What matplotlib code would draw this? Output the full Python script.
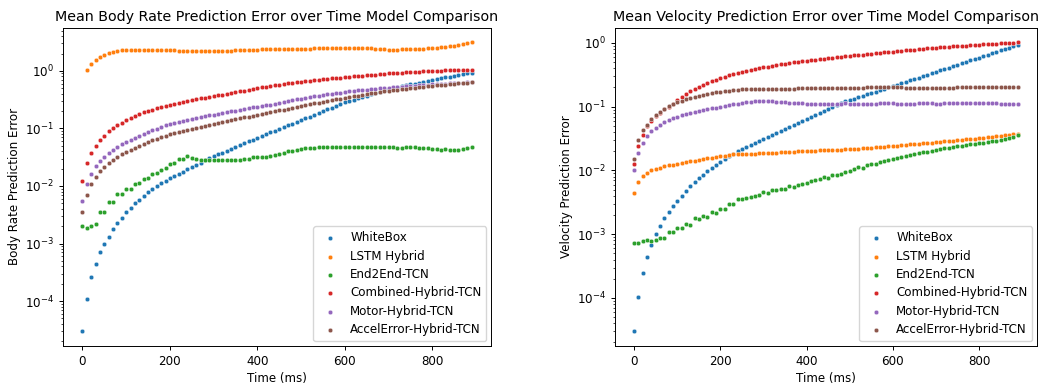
import numpy as np
import matplotlib
matplotlib.use("Agg")
import matplotlib.pyplot as plt

plt.rcParams.update({
    "font.size": 8.6,
    "axes.linewidth": 0.7,
    "xtick.major.size": 3.0,
    "ytick.major.size": 3.0,
    "xtick.minor.size": 1.7,
    "ytick.minor.size": 1.7,
    "xtick.major.width": 0.7,
    "ytick.major.width": 0.7,
    "ytick.minor.width": 0.5,
    "legend.fontsize": 8.6,
})

time_ms = np.arange(0, 900, 10)
models = ["WhiteBox", "LSTM Hybrid", "End2End-TCN", "Combined-Hybrid-TCN",
          "Motor-Hybrid-TCN", "AccelError-Hybrid-TCN"]
colors = ["#1f77b4", "#ff7f0e", "#2ca02c", "#d62728", "#9467bd", "#8c564b"]

# ---------------- Body rate error ----------------
body_whitebox = [
    3.0e-5, 1.1e-4, 2.6e-4, 4.5e-4, 7.0e-4, 1.0e-3, 1.3e-3, 1.8e-3, 2.3e-3, 2.8e-3,
    3.5e-3, 4.2e-3, 5.0e-3, 5.8e-3, 6.7e-3, 7.8e-3, 8.8e-3, 9.9e-3, 0.0111, 0.0122,
    0.0136, 0.0150, 0.0164, 0.0178, 0.0195, 0.0214, 0.0234, 0.0255, 0.0278, 0.0302,
    0.0327, 0.0353, 0.0380, 0.0410, 0.0445, 0.0478, 0.0514, 0.0553, 0.0594, 0.0639,
    0.0687, 0.0738, 0.0794, 0.0853, 0.0916, 0.0983, 0.1055, 0.1132, 0.1215, 0.1304,
    0.140, 0.150, 0.161, 0.173, 0.186, 0.200, 0.215, 0.230, 0.247, 0.265,
    0.285, 0.300, 0.316, 0.333, 0.351, 0.370, 0.390, 0.411, 0.433, 0.456,
    0.480, 0.498, 0.517, 0.537, 0.558, 0.579, 0.601, 0.624, 0.648, 0.673,
    0.700, 0.722, 0.745, 0.769, 0.794, 0.819, 0.845, 0.872, 0.900, 0.930]
body_lstm = [
    np.nan, 1.04, 1.32, 1.55, 1.73, 1.89, 2.03, 2.14, 2.22, 2.27,
    2.30, 2.31, 2.32, 2.32, 2.33, 2.33, 2.32, 2.32, 2.31, 2.30,
    2.29, 2.26, 2.24, 2.23, 2.23, 2.24, 2.23, 2.23, 2.24, 2.24,
    2.23, 2.24, 2.24, 2.25, 2.25, 2.27, 2.30, 2.32, 2.33, 2.34,
    2.34, 2.35, 2.35, 2.35, 2.36, 2.36, 2.37, 2.37, 2.40, 2.42,
    2.43, 2.44, 2.44, 2.45, 2.45, 2.45, 2.46, 2.46, 2.46, 2.45,
    2.45, 2.45, 2.46, 2.46, 2.46, 2.45, 2.45, 2.42, 2.37, 2.35,
    2.34, 2.34, 2.34, 2.35, 2.35, 2.35, 2.36, 2.38, 2.42, 2.45,
    2.47, 2.50, 2.55, 2.60, 2.65, 2.72, 2.80, 2.90, 3.00, 3.12]
body_e2e = [
    0.0020, 0.00184, 0.0020, 0.00217, 0.0035, 0.0036, 0.0052, 0.0052, 0.0072, 0.0072,
    0.0088, 0.0090, 0.0107, 0.0111, 0.0133, 0.0136, 0.0164, 0.0169, 0.0192, 0.0209,
    0.0245, 0.0250, 0.0290, 0.0296, 0.0327, 0.0310, 0.0297, 0.0283, 0.0280, 0.0279,
    0.0280, 0.0279, 0.0282, 0.0285, 0.0285, 0.0286, 0.0288, 0.0290, 0.0290, 0.0315,
    0.0320, 0.0322, 0.0325, 0.0335, 0.0345, 0.0360, 0.0380, 0.0400, 0.0410, 0.0430,
    0.0440, 0.0450, 0.0460, 0.0465, 0.0480, 0.0480, 0.0485, 0.0480, 0.0470, 0.0470,
    0.0470, 0.0470, 0.0470, 0.0475, 0.0480, 0.0480, 0.0475, 0.0470, 0.0475, 0.0480,
    0.0480, 0.0470, 0.0460, 0.0465, 0.0470, 0.0475, 0.0470, 0.0460, 0.0450, 0.0450,
    0.0440, 0.0440, 0.0430, 0.0435, 0.0430, 0.0420, 0.0425, 0.0440, 0.0450, 0.0470]
body_combined = [
    0.0124, 0.0251, 0.0369, 0.050, 0.063, 0.0747, 0.089, 0.101, 0.113, 0.126,
    0.140, 0.153, 0.166, 0.178, 0.190, 0.200, 0.212, 0.223, 0.235, 0.246,
    0.257, 0.268, 0.279, 0.290, 0.300, 0.311, 0.322, 0.332, 0.342, 0.352,
    0.362, 0.374, 0.386, 0.399, 0.412, 0.426, 0.440, 0.454, 0.469, 0.485,
    0.500, 0.517, 0.534, 0.550, 0.563, 0.577, 0.591, 0.605, 0.620, 0.635,
    0.650, 0.662, 0.674, 0.686, 0.699, 0.712, 0.725, 0.738, 0.752, 0.766,
    0.780, 0.791, 0.803, 0.814, 0.826, 0.838, 0.850, 0.862, 0.874, 0.887,
    0.900, 0.910, 0.919, 0.929, 0.939, 0.949, 0.959, 0.969, 0.979, 0.990,
    1.000, 1.005, 1.010, 1.015, 1.020, 1.024, 1.028, 1.032, 1.036, 1.040]
body_motor = [
    0.0054, 0.0107, 0.0162, 0.022, 0.0275, 0.0323, 0.038, 0.0427, 0.048, 0.0537,
    0.059, 0.064, 0.069, 0.074, 0.080, 0.086, 0.092, 0.099, 0.106, 0.113,
    0.120, 0.125, 0.130, 0.135, 0.140, 0.145, 0.150, 0.156, 0.162, 0.168,
    0.174, 0.180, 0.186, 0.192, 0.198, 0.204, 0.210, 0.217, 0.224, 0.231,
    0.238, 0.245, 0.252, 0.260, 0.269, 0.278, 0.287, 0.297, 0.307, 0.318,
    0.330, 0.340, 0.350, 0.360, 0.370, 0.380, 0.390, 0.400, 0.410, 0.420,
    0.430, 0.440, 0.448, 0.456, 0.464, 0.472, 0.480, 0.488, 0.496, 0.504,
    0.512, 0.520, 0.527, 0.534, 0.541, 0.548, 0.555, 0.562, 0.569, 0.576,
    0.583, 0.589, 0.595, 0.601, 0.607, 0.613, 0.619, 0.625, 0.631, 0.637]
body_accel = [
    0.0035, 0.0071, 0.0107, 0.0142, 0.018, 0.0214, 0.0248, 0.0288, 0.0323, 0.036,
    0.0396, 0.0427, 0.0463, 0.050, 0.0543, 0.058, 0.062, 0.066, 0.070, 0.0745,
    0.079, 0.083, 0.087, 0.091, 0.095, 0.099, 0.103, 0.107, 0.111, 0.116,
    0.121, 0.126, 0.131, 0.136, 0.141, 0.146, 0.151, 0.156, 0.161, 0.167,
    0.173, 0.179, 0.185, 0.192, 0.199, 0.206, 0.213, 0.220, 0.228, 0.236,
    0.245, 0.253, 0.262, 0.271, 0.280, 0.289, 0.298, 0.308, 0.318, 0.328,
    0.340, 0.350, 0.360, 0.371, 0.382, 0.393, 0.404, 0.415, 0.426, 0.438,
    0.450, 0.460, 0.470, 0.480, 0.490, 0.500, 0.510, 0.520, 0.530, 0.540,
    0.550, 0.559, 0.568, 0.577, 0.586, 0.595, 0.604, 0.612, 0.620, 0.628]

# ---------------- Velocity error ----------------
vel_whitebox = [
    3.0e-5, 1.05e-4, 2.5e-4, 4.4e-4, 6.8e-4, 1.0e-3, 1.35e-3, 1.8e-3, 2.2e-3, 2.8e-3,
    3.3e-3, 4.0e-3, 4.7e-3, 5.6e-3, 6.5e-3, 7.5e-3, 8.5e-3, 9.8e-3, 0.0110, 0.0123,
    0.0137, 0.0153, 0.0168, 0.0182, 0.0200, 0.0215, 0.0232, 0.0250, 0.0269, 0.0289,
    0.0310, 0.0334, 0.0360, 0.0387, 0.0416, 0.0448, 0.0480, 0.0520, 0.0557, 0.0600,
    0.0645, 0.0694, 0.0745, 0.0800, 0.0860, 0.0925, 0.0995, 0.107, 0.115, 0.121,
    0.127, 0.134, 0.141, 0.148, 0.156, 0.164, 0.172, 0.181, 0.190, 0.200,
    0.210, 0.221, 0.233, 0.245, 0.258, 0.272, 0.286, 0.301, 0.317, 0.334,
    0.352, 0.371, 0.390, 0.411, 0.433, 0.456, 0.480, 0.505, 0.532, 0.560,
    0.590, 0.621, 0.654, 0.689, 0.725, 0.764, 0.804, 0.847, 0.892, 0.939]
vel_lstm = [
    0.0044, 0.0066, 0.0083, 0.0091, 0.0100, 0.0105, 0.0111, 0.0116, 0.0120, 0.0123,
    0.0127, 0.0130, 0.0136, 0.0139, 0.0142, 0.0147, 0.0150, 0.0157, 0.0159, 0.0162,
    0.0168, 0.0171, 0.0177, 0.0180, 0.0182, 0.0182, 0.0184, 0.0184, 0.0184, 0.0186,
    0.0188, 0.0188, 0.0190, 0.0190, 0.0192, 0.0194, 0.0196, 0.0198, 0.0199, 0.0200,
    0.0202, 0.0204, 0.0205, 0.0206, 0.0207, 0.0209, 0.0210, 0.0211, 0.0212, 0.0214,
    0.0216, 0.0218, 0.0220, 0.0222, 0.0224, 0.0227, 0.0230, 0.0233, 0.0237, 0.0240,
    0.0243, 0.0246, 0.0250, 0.0253, 0.0256, 0.0260, 0.0263, 0.0267, 0.0270, 0.0274,
    0.0278, 0.0282, 0.0286, 0.0290, 0.0294, 0.0298, 0.0302, 0.0307, 0.0311, 0.0316,
    0.0320, 0.0325, 0.0330, 0.0336, 0.0342, 0.0348, 0.0355, 0.0362, 0.0370, 0.0378]
vel_e2e = [
    7.3e-4, 7.3e-4, 7.8e-4, 8.1e-4, 7.9e-4, 8.1e-4, 8.7e-4, 8.7e-4, 1.07e-3, 1.07e-3,
    1.27e-3, 1.27e-3, 1.45e-3, 1.40e-3, 1.80e-3, 1.75e-3, 1.90e-3, 1.85e-3, 2.20e-3, 2.15e-3,
    2.45e-3, 2.45e-3, 2.95e-3, 2.95e-3, 3.55e-3, 3.55e-3, 3.70e-3, 3.80e-3, 3.95e-3, 4.10e-3,
    4.60e-3, 4.40e-3, 4.90e-3, 4.90e-3, 5.20e-3, 5.10e-3, 5.60e-3, 5.50e-3, 6.00e-3, 6.20e-3,
    6.30e-3, 6.90e-3, 7.00e-3, 7.40e-3, 7.80e-3, 7.60e-3, 8.40e-3, 8.60e-3, 8.90e-3, 9.60e-3,
    9.90e-3, 0.0105, 0.0112, 0.0111, 0.0121, 0.0126, 0.0125, 0.0136, 0.0142, 0.0148,
    0.0152, 0.0154, 0.0163, 0.0168, 0.0172, 0.0180, 0.0185, 0.0192, 0.0196, 0.0203,
    0.0210, 0.0215, 0.0222, 0.0228, 0.0235, 0.0240, 0.0244, 0.0252, 0.0256, 0.0263,
    0.0268, 0.0274, 0.0279, 0.0286, 0.0292, 0.0303, 0.0315, 0.0328, 0.0340, 0.0355]
vel_combined = [
    0.0127, 0.0245, 0.0365, 0.049, 0.060, 0.071, 0.081, 0.091, 0.100, 0.112,
    0.126, 0.144, 0.160, 0.175, 0.190, 0.205, 0.220, 0.235, 0.250, 0.265,
    0.280, 0.295, 0.310, 0.323, 0.336, 0.349, 0.362, 0.375, 0.388, 0.400,
    0.412, 0.424, 0.436, 0.448, 0.460, 0.472, 0.484, 0.495, 0.506, 0.517,
    0.528, 0.538, 0.548, 0.558, 0.568, 0.578, 0.588, 0.598, 0.608, 0.618,
    0.628, 0.638, 0.648, 0.658, 0.668, 0.678, 0.689, 0.700, 0.711, 0.722,
    0.733, 0.744, 0.755, 0.766, 0.777, 0.788, 0.800, 0.810, 0.820, 0.830,
    0.840, 0.850, 0.860, 0.870, 0.880, 0.890, 0.900, 0.910, 0.920, 0.930,
    0.940, 0.950, 0.960, 0.968, 0.976, 0.984, 0.992, 1.000, 1.010, 1.020]
vel_motor = [
    0.010, 0.019, 0.027, 0.035, 0.041, 0.047, 0.052, 0.057, 0.062, 0.066,
    0.070, 0.073, 0.076, 0.079, 0.082, 0.085, 0.088, 0.091, 0.094, 0.097,
    0.100, 0.103, 0.106, 0.109, 0.112, 0.115, 0.118, 0.120, 0.122, 0.123,
    0.123, 0.122, 0.121, 0.120, 0.119, 0.117, 0.116, 0.115, 0.114, 0.113,
    0.112, 0.111, 0.111, 0.110, 0.110, 0.110, 0.111, 0.112, 0.112, 0.113,
    0.112, 0.111, 0.110, 0.110, 0.110, 0.111, 0.112, 0.113, 0.114, 0.114,
    0.113, 0.112, 0.112, 0.111, 0.111, 0.112, 0.113, 0.114, 0.114, 0.113,
    0.112, 0.112, 0.113, 0.113, 0.114, 0.114, 0.114, 0.113, 0.113, 0.114,
    0.114, 0.114, 0.114, 0.114, 0.113, 0.112, 0.111, 0.111, 0.111, 0.111]
vel_accel = [
    0.015, 0.030, 0.043, 0.052, 0.063, 0.073, 0.083, 0.093, 0.102, 0.110,
    0.118, 0.125, 0.131, 0.137, 0.142, 0.147, 0.152, 0.157, 0.162, 0.167,
    0.171, 0.175, 0.178, 0.181, 0.184, 0.186, 0.188, 0.190, 0.190, 0.190,
    0.190, 0.190, 0.191, 0.191, 0.190, 0.190, 0.190, 0.191, 0.193, 0.195,
    0.196, 0.196, 0.196, 0.196, 0.197, 0.197, 0.197, 0.196, 0.196, 0.196,
    0.197, 0.197, 0.197, 0.198, 0.200, 0.203, 0.206, 0.207, 0.207, 0.206,
    0.204, 0.202, 0.200, 0.198, 0.197, 0.197, 0.197, 0.197, 0.197, 0.197,
    0.197, 0.197, 0.197, 0.198, 0.199, 0.200, 0.200, 0.201, 0.201, 0.201,
    0.201, 0.201, 0.201, 0.201, 0.201, 0.201, 0.201, 0.201, 0.201, 0.201]

body_series = [body_whitebox, body_lstm, body_e2e, body_combined, body_motor, body_accel]
vel_series = [vel_whitebox, vel_lstm, vel_e2e, vel_combined, vel_motor, vel_accel]

fig = plt.figure(figsize=(10.45, 3.88), dpi=100)
ax1 = fig.add_axes([0.0603, 0.109, 0.4096, 0.819])
ax2 = fig.add_axes([0.5885, 0.109, 0.4038, 0.819])

panels = [
    (ax1, body_series, "Mean Body Rate Prediction Error over Time Model Comparison",
     "Body Rate Prediction Error"),
    (ax2, vel_series, "Mean Velocity Prediction Error over Time Model Comparison",
     "Velocity Prediction Error"),
]
for ax, series, title, ylabel in panels:
    for name, vals, col in zip(models, series, colors):
        ax.scatter(time_ms, vals, s=11, color=col, edgecolors="white",
                   linewidths=0.3, label=name)
    ax.set_yscale("log")
    ax.set_title(title, fontsize=10.3, pad=5)
    ax.set_xlabel("Time (ms)", labelpad=3)
    ax.set_ylabel(ylabel, labelpad=3)
    ax.set_xticks([0, 200, 400, 600, 800])
    ax.legend(loc="lower right", borderpad=0.4, labelspacing=0.45,
              handletextpad=0.7, borderaxespad=0.4)

fig.savefig("out.png", dpi=100)
